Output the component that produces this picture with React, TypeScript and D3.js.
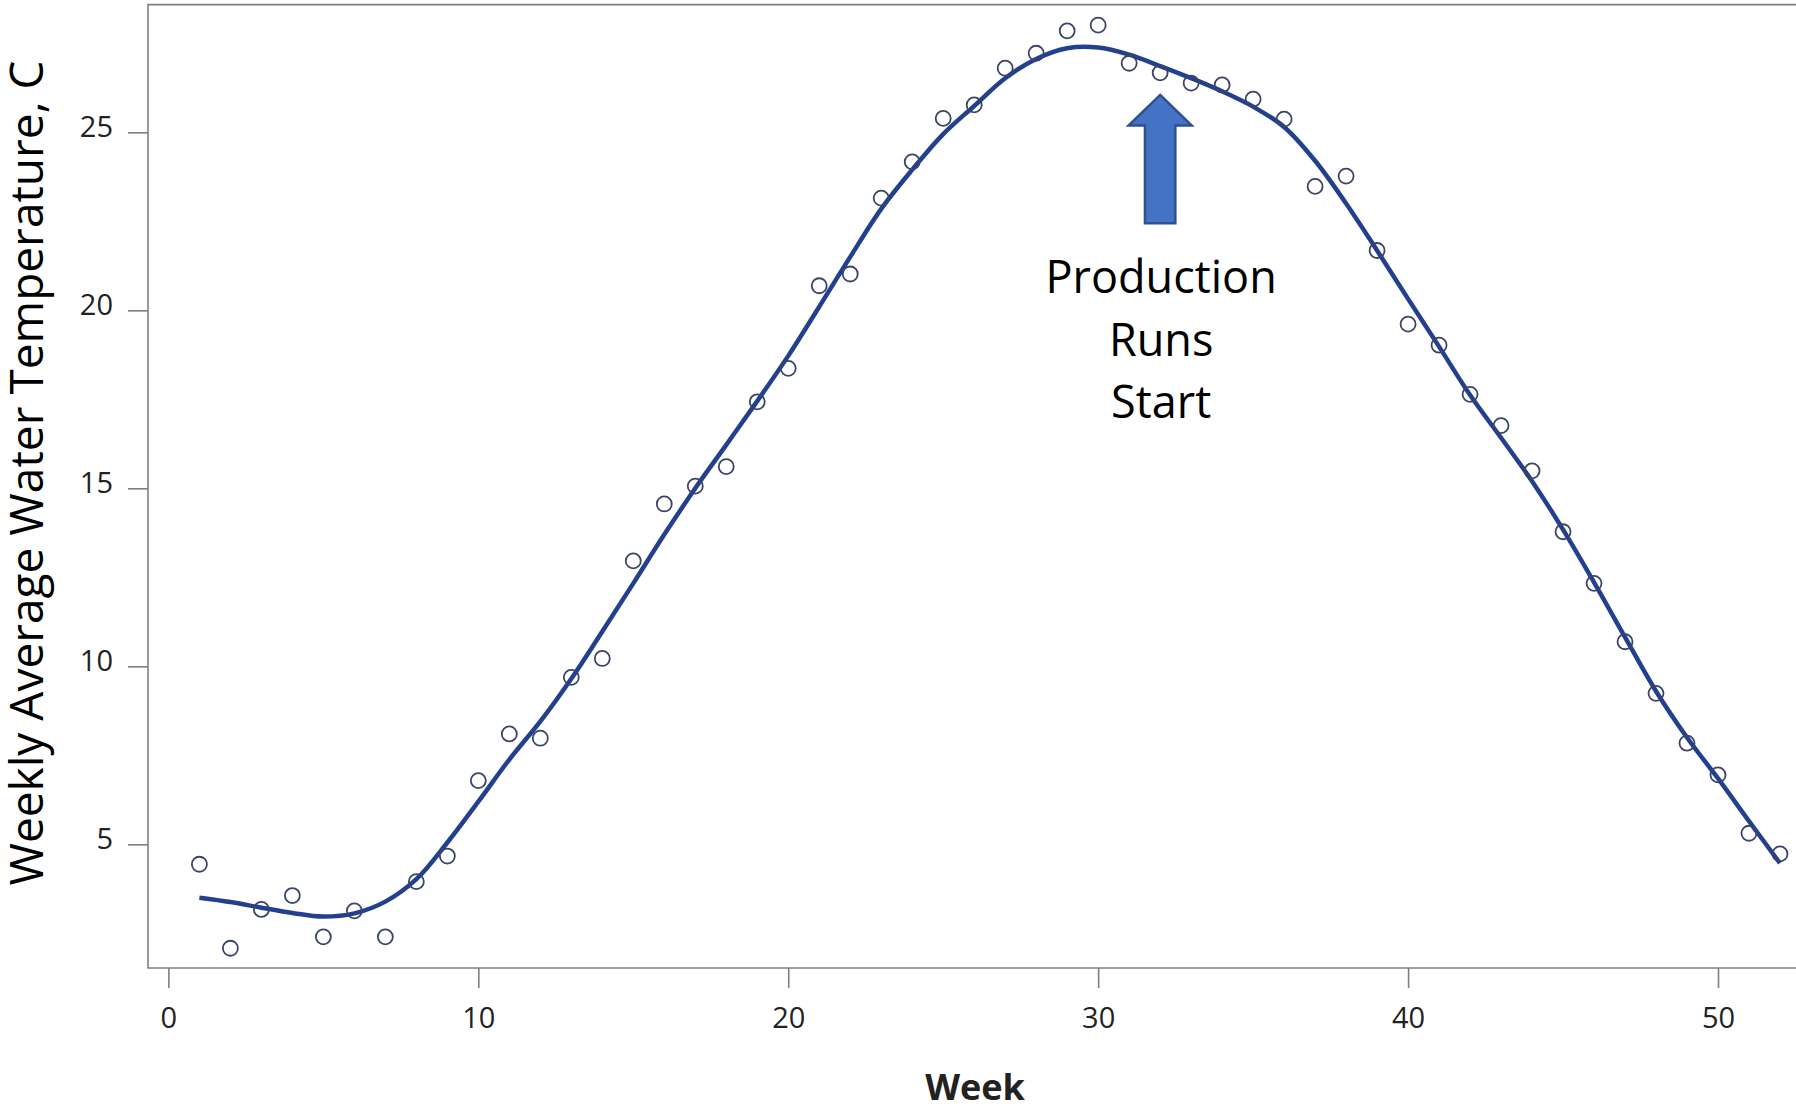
import React, { useEffect, useRef } from 'react';
import * as d3 from 'd3';

const weeks = [
  1, 2, 3, 4, 5, 6, 7, 8, 9, 10, 11, 12, 13, 14, 15, 16, 17, 18, 19, 20, 21, 22, 23, 24, 25, 26,
  27, 28, 29, 30, 31, 32, 33, 34, 35, 36, 37, 38, 39, 40, 41, 42, 43, 44, 45, 46, 47, 48, 49, 50, 51, 52,
];
const observedTemp = [
  4.44, 2.08, 3.17, 3.56, 2.4, 3.13, 2.4, 3.95, 4.67, 6.79, 8.1, 7.98, 9.69, 10.22, 12.96, 14.56, 15.06,
  15.61, 17.43, 18.37, 20.69, 21.02, 23.15, 24.17, 25.39, 25.77, 26.8, 27.22, 27.85, 28.01, 26.94, 26.67,
  26.38, 26.33, 25.93, 25.37, 23.48, 23.77, 21.68, 19.61, 19.02, 17.64, 16.76, 15.49, 13.78, 12.33, 10.69,
  9.24, 7.84, 6.95, 5.31, 4.73,
];
const smoothedTemp = [
  3.5, 3.38, 3.22, 3.07, 2.97, 3.06, 3.39, 4.02, 5.05, 6.2, 7.38, 8.45, 9.65, 10.98, 12.33, 13.7, 15.0,
  16.22, 17.45, 18.72, 20.1, 21.5, 22.85, 23.95, 24.95, 25.74, 26.52, 27.06, 27.36, 27.38, 27.18, 26.86,
  26.52, 26.15, 25.72, 25.15, 24.2, 23.0, 21.68, 20.32, 18.98, 17.62, 16.42, 15.2, 13.84, 12.36, 10.82,
  9.3, 8.0, 6.85, 5.65, 4.47,
];
const xTicks = [0, 10, 20, 30, 40, 50];
const yTicks = [5, 10, 15, 20, 25];
const annotationWeek = 32;
const annotationTipTemp = 26.05;
const annotationLines = ['Production', 'Runs', 'Start'];

const WIDTH = 1796;
const HEIGHT = 1106;

const App = () => {
  const svgRef = useRef(null);

  useEffect(() => {
    const svg = d3.select(svgRef.current);
    svg.selectAll('*').remove();

    const frame = { left: 148, top: 4.6, right: WIDTH, bottom: 968 };
    const axisColor = '#7f7f7f';
    const font = "'Open Sans', sans-serif";

    const x = d3.scaleLinear().domain([0, 50]).range([168.4, 1718]);
    const y = d3.scaleLinear().domain([5, 25]).range([844.3, 132.3]);

    svg.append('rect').attr('width', WIDTH).attr('height', HEIGHT).attr('fill', '#fff');

    // plot frame (left, top, bottom)
    svg
      .append('path')
      .attr(
        'd',
        `M${frame.right},${frame.top}H${frame.left}V${frame.bottom}H${frame.right}`,
      )
      .attr('fill', 'none')
      .attr('stroke', axisColor)
      .attr('stroke-width', 1.6);

    // y axis
    const yAxis = svg
      .append('g')
      .attr('transform', `translate(${frame.left},0)`)
      .call(d3.axisLeft(y).tickValues(yTicks).tickSize(20).tickPadding(15));
    yAxis.select('.domain').remove();
    yAxis.selectAll('line').attr('stroke', axisColor).attr('stroke-width', 1.6);
    yAxis
      .selectAll('text')
      .attr('dy', '0.16em')
      .attr('fill', '#222')
      .style('font-family', font)
      .style('font-size', '29px');

    // x axis
    const xAxis = svg
      .append('g')
      .attr('transform', `translate(0,${frame.bottom})`)
      .call(d3.axisBottom(x).tickValues(xTicks).tickSize(20).tickPadding(19.5));
    xAxis.select('.domain').remove();
    xAxis.selectAll('line').attr('stroke', axisColor).attr('stroke-width', 1.6);
    xAxis
      .selectAll('text')
      .attr('fill', '#222')
      .style('font-family', font)
      .style('font-size', '29px');

    // axis titles
    svg
      .append('text')
      .attr('x', 975)
      .attr('y', 1100)
      .attr('text-anchor', 'middle')
      .attr('fill', '#222')
      .style('font-family', font)
      .style('font-weight', 'bold')
      .style('font-size', '36px')
      .text('Week');

    svg
      .append('text')
      .attr('transform', 'translate(43,473) rotate(-90)')
      .attr('text-anchor', 'middle')
      .attr('fill', '#000')
      .style('font-family', font)
      .style('font-size', '46px')
      .text('Weekly Average Water Temperature, C');

    // fitted curve
    const line = d3
      .line()
      .x((d) => x(d[0]))
      .y((d) => y(d[1]))
      .curve(d3.curveCatmullRom.alpha(0.5));

    svg
      .append('path')
      .datum(weeks.map((w, i) => [w, smoothedTemp[i]]))
      .attr('d', line)
      .attr('fill', 'none')
      .attr('stroke', '#22408e')
      .attr('stroke-width', 4.5)
      .attr('stroke-linejoin', 'round');

    // observed points
    svg
      .selectAll('.pt')
      .data(weeks.map((w, i) => ({ week: w, temp: observedTemp[i] })))
      .enter()
      .append('circle')
      .attr('class', 'pt')
      .attr('cx', (d) => x(d.week))
      .attr('cy', (d) => y(d.temp))
      .attr('r', 7.5)
      .attr('fill', 'none')
      .attr('stroke', '#3a4466')
      .attr('stroke-width', 1.8);

    // block arrow + annotation
    const ax = x(annotationWeek);
    const tipY = y(annotationTipTemp);
    const arrow = [
      [ax, tipY],
      [ax + 31.6, tipY + 30.7],
      [ax + 15.2, tipY + 30.7],
      [ax + 15.2, tipY + 128.3],
      [ax - 15.2, tipY + 128.3],
      [ax - 15.2, tipY + 30.7],
      [ax - 31.6, tipY + 30.7],
    ];
    svg
      .append('path')
      .attr('d', d3.line()(arrow) + 'Z')
      .attr('fill', '#4472c4')
      .attr('stroke', '#2f528f')
      .attr('stroke-width', 2.5)
      .attr('stroke-linejoin', 'miter');

    svg
      .append('text')
      .attr('text-anchor', 'middle')
      .attr('fill', '#000')
      .style('font-family', font)
      .style('font-size', '45px')
      .selectAll('tspan')
      .data(annotationLines)
      .enter()
      .append('tspan')
      .attr('x', ax + 1)
      .attr('y', (d, i) => 293 + i * 62.5)
      .text((d) => d);
  }, []);

  return (
    <div style={{ position: 'absolute', left: 0, top: 0 }}>
      <svg ref={svgRef} width={WIDTH} height={HEIGHT} style={{ display: 'block' }}></svg>
    </div>
  );
};

export default App;
